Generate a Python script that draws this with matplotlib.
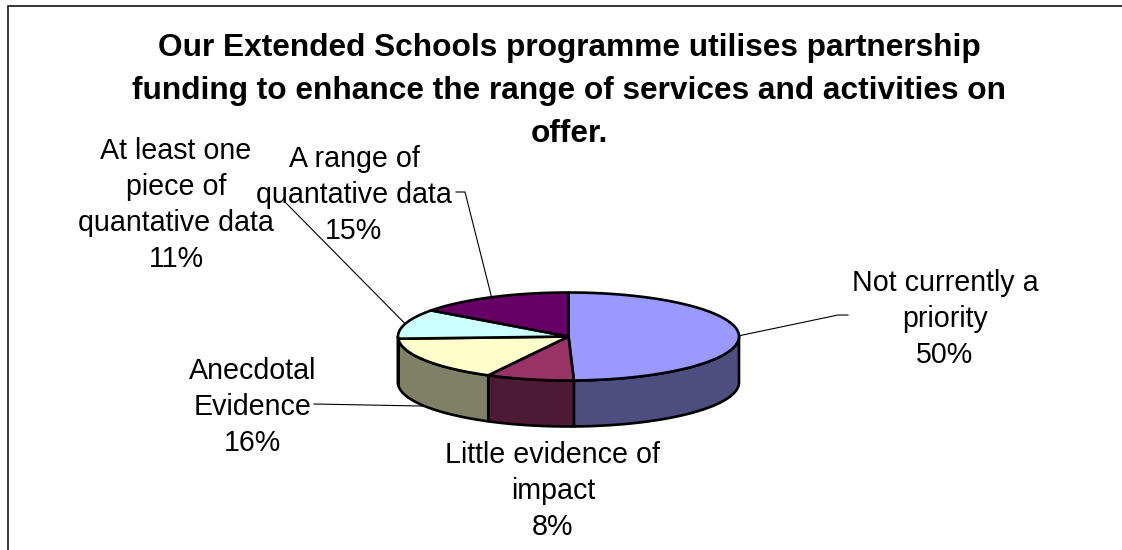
#!/usr/bin/env python3
import numpy as np
import matplotlib
matplotlib.use('Agg')
import matplotlib.pyplot as plt

# slice values (%), clockwise from 12 o'clock
categories = ['Not currently a\npriority', 'Little evidence of\nimpact', 'Anecdotal\nEvidence',
              'At least one\npiece of\nquantative data', 'A range of\nquantative data']
values = [49.5, 8.3, 16.4, 10.9, 14.9]
top_colors = ['#9999FF', '#993366', '#FFFFCC', '#CCFFFF', '#660066']
side_colors = ['#4D4D80', '#4D1A33', '#808066', '#668080', '#330033']
title = ('Our Extended Schools programme utilises partnership\n'
         'funding to enhance the range of services and activities on\n'
         'offer.')

# label centres and the point where each leader leaves the label
label_pos = [(945, 319), (553, 491), (253, 407), (176, 205), (354, 195)]
leader_start = [(848, 315), None, (314, 404), (285, 202), (465, 192)]
elbow = [(838, 315), None, None, None, None]

plt.rcParams['font.family'] = ['Liberation Sans', 'DejaVu Sans']

fig = plt.figure(figsize=(11.22, 5.5), dpi=100)
ax = fig.add_axes([0, 0, 1, 1])
ax.set_xlim(0, 1122)
ax.set_ylim(550, 0)
ax.axis('off')

# chart border, only top and left are in the crop
ax.plot([8, 8, 1122], [550, 6, 6], color='black', lw=1.1, solid_joinstyle='miter')

cx, cy, rx, ry, depth = 568.5, 336.5, 170.5, 44, 46


def ell(t):
    return cx + rx * np.sin(t), cy - ry * np.cos(t)


edges = np.radians(np.concatenate([[0], np.cumsum(values)]) * 3.6)

# side walls, only the front half shows
for i in range(len(values)):
    a = max(edges[i], np.pi / 2)
    b = min(edges[i + 1], 3 * np.pi / 2)
    if b <= a:
        continue
    t = np.linspace(a, b, 100)
    x, y = ell(t)
    ax.fill(np.r_[x, x[::-1]], np.r_[y, y[::-1] + depth], facecolor=side_colors[i],
            edgecolor='black', lw=1.9, joinstyle='round', zorder=2)

# top face
for i in range(len(values)):
    t = np.linspace(edges[i], edges[i + 1], 200)
    x, y = ell(t)
    ax.fill(np.r_[cx, x], np.r_[cy, y], facecolor=top_colors[i],
            edgecolor='black', lw=1.9, joinstyle='round', zorder=3)

# labels and leaders
for i, name in enumerate(categories):
    ax.text(label_pos[i][0], label_pos[i][1], '%s\n%.0f%%' % (name, values[i]),
            ha='center', va='center', fontsize=20.6, linespacing=1.375, color='black', zorder=5)
    if leader_start[i] is None:
        continue
    mid = (edges[i] + edges[i + 1]) / 2
    ex, ey = ell(mid)
    if np.pi / 2 < mid < 3 * np.pi / 2 and i > 0:
        ey += depth
    xs = [leader_start[i][0]]
    ys = [leader_start[i][1]]
    if elbow[i] is not None:
        xs.append(elbow[i][0])
        ys.append(elbow[i][1])
    if i == 4:
        xs.insert(0, 456)
        ys.insert(0, 192)
    xs.append(ex)
    ys.append(ey)
    ax.plot(xs, ys, color='black', lw=0.8, zorder=1)

ax.text(569, 91, title, ha='center', va='center', fontsize=22.8, fontweight='bold',
        linespacing=1.56, color='black', zorder=6)

fig.savefig('out.png', dpi=100)
